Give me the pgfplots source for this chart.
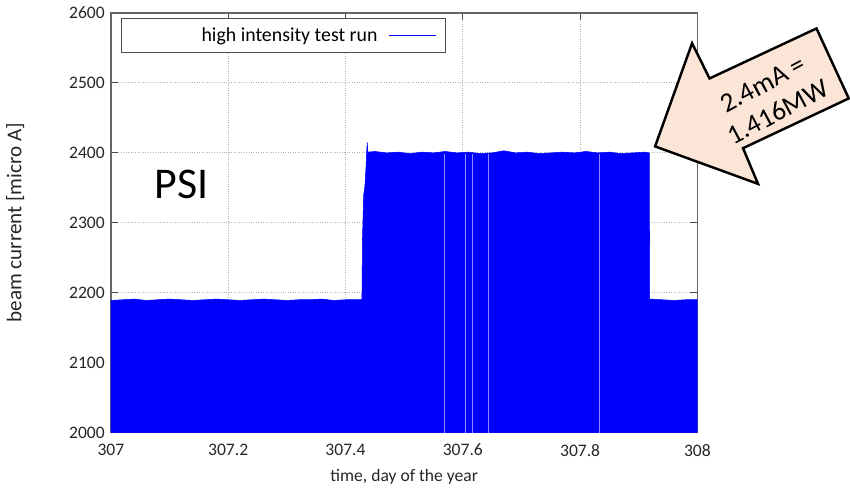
\documentclass[border=0pt]{standalone}
\usepackage{pgfplots}
\pgfplotsset{compat=1.18}
\usepackage{fontspec}
\setmainfont{Carlito}
\newfontfamily\calibri{Carlito}
\definecolor{peach}{HTML}{FBE5D6}
\begin{document}
\begin{tikzpicture}
\begin{scope}[shift={(-2.22cm,8.66cm)},x=0.02cm,y=-0.02cm]
\useasboundingbox (0,0) rectangle (850,492);
\end{scope}
\begin{axis}[
  at={(0,0)}, anchor=south west,
  scale only axis, width=11.74cm, height=8.4cm,
  xmin=307, xmax=308, ymin=2000, ymax=2600,
  xtick={307,307.2,307.4,307.6,307.8,308},
  xticklabels={307,307.2,307.4,307.6,307.8,308},
  ytick={2000,2100,2200,2300,2400,2500,2600},
  /pgf/number format/assume math mode=true,
  /pgf/number format/1000 sep={},
  tick label style={font=\fontsize{10}{12}\selectfont, text=black!85},
  xticklabel style={yshift=-3pt},
  tick align=inside, major tick length=0.14cm,
  tick style={black!70, line width=0.6pt},
  axis line style={black!60, line width=0.7pt},
  grid=major, grid style={densely dotted, black!30, line width=0.5pt},
  xlabel={time, day of the year},
  ylabel={beam current [micro A]},
  xlabel style={at={(axis description cs:0.5,-0.105)}, anchor=center, font=\fontsize{10}{12}\selectfont, text=black!85},
  ylabel style={at={(axis description cs:-0.163,0.5)}, anchor=center, font=\fontsize{12}{14}\selectfont, text=black!85},
  legend style={at={(0.017,0.988)}, anchor=north west, draw=black!70, line width=0.6pt,
    font=\fontsize{11.3}{13}\selectfont, inner xsep=3pt, inner ysep=3pt},
  legend plot pos=none,
]
\addplot[fill=blue, draw=blue, line width=0.3pt, forget plot] coordinates {
(307.000,2189) (307.020,2190) (307.040,2191) (307.060,2189) (307.080,2190)
(307.100,2191) (307.120,2190) (307.140,2189) (307.160,2190) (307.180,2191)
(307.200,2190) (307.220,2189) (307.240,2190) (307.260,2191) (307.280,2190)
(307.300,2189) (307.320,2190) (307.340,2190) (307.360,2191) (307.380,2189)
(307.400,2190) (307.428,2190)
(307.429,2280) (307.431,2340) (307.433,2352) (307.435,2380) (307.436,2400)
(307.437,2415) (307.438,2401)
(307.450,2402) (307.470,2400) (307.490,2401) (307.510,2399) (307.530,2401)
(307.550,2400) (307.570,2402) (307.590,2400) (307.610,2401) (307.630,2399)
(307.650,2400) (307.670,2403) (307.690,2400) (307.710,2401) (307.730,2399)
(307.750,2400) (307.770,2401) (307.790,2400) (307.810,2402) (307.830,2400)
(307.850,2401) (307.870,2399) (307.890,2400) (307.910,2401) (307.918,2400)
(307.9185,2191) (307.940,2190) (307.960,2189) (307.980,2190) (308.000,2190)
} \closedcycle;
\addplot[ycomb, color=blue!45!white, line width=0.4pt, mark=none, forget plot] coordinates {
(307.568,2399) (307.605,2399) (307.616,2399) (307.644,2399) (307.832,2399)
};
\addlegendimage{blue}
\addlegendentry{\makebox[4.95cm][r]{high intensity test run}\hspace{6pt}\tikz[baseline=-0.6ex]\draw[blue, line width=0.8pt] (0,0) -- (0.94cm,0);\hspace{5pt}}
\end{axis}
\begin{scope}[shift={(-2.22cm,8.66cm)},x=0.02cm,y=-0.02cm]
\node[font=\calibri\fontsize{25}{28}\selectfont] at (182,185) {PSI};
\draw[fill=peach, line width=1.4pt, line join=miter]
  (655.5,146.5) -- (692.5,43.3) -- (710,78.5) -- (817,28.5) -- (849.3,98.5)
  -- (743.5,148.3) -- (758.5,184) -- cycle;
\node[font=\calibri\fontsize{15.5}{18}\selectfont, rotate=28, align=center, inner sep=0pt] at (771,98) {2.4mA =\\1.416MW};
\end{scope}
\end{tikzpicture}
\end{document}
